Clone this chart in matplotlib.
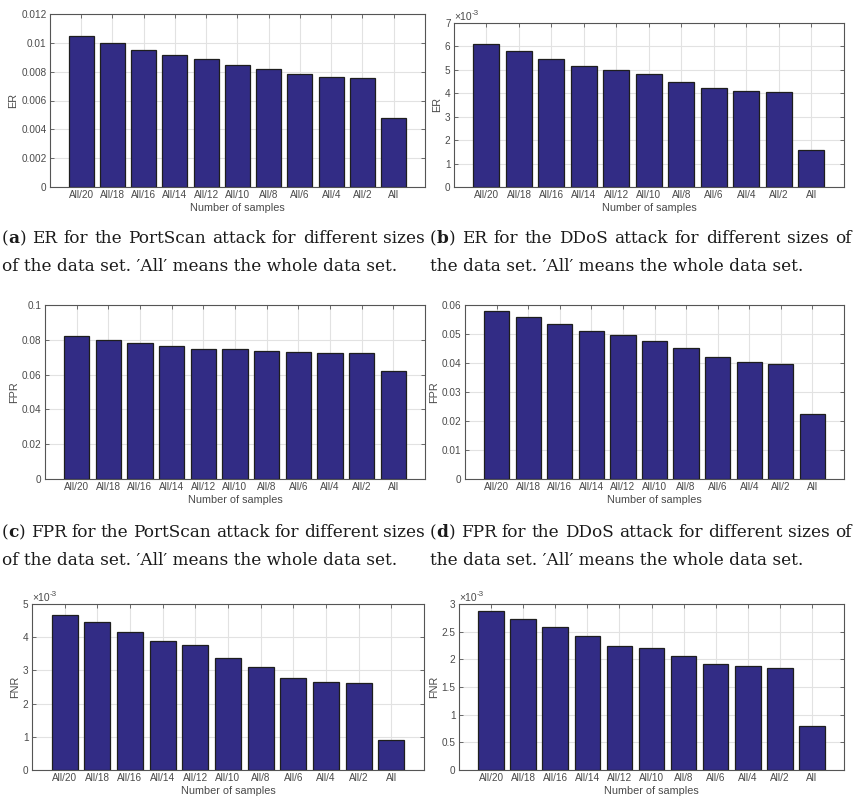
import matplotlib
matplotlib.use("Agg")
import matplotlib.pyplot as plt
from matplotlib.ticker import FuncFormatter, MultipleLocator

categories = ["All/20", "All/18", "All/16", "All/14", "All/12", "All/10",
              "All/8", "All/6", "All/4", "All/2", "All"]

er_portscan = [0.01048, 0.01002, 0.00951, 0.00918, 0.00891, 0.00847,
               0.00817, 0.00787, 0.00764, 0.00759, 0.00482]
er_ddos = [6.10e-3, 5.80e-3, 5.48e-3, 5.18e-3, 4.99e-3, 4.82e-3,
           4.50e-3, 4.24e-3, 4.10e-3, 4.04e-3, 1.60e-3]
fpr_portscan = [0.0820, 0.0799, 0.0780, 0.0763, 0.0747, 0.0745,
                0.0734, 0.0731, 0.0726, 0.0723, 0.0620]
fpr_ddos = [0.0578, 0.0557, 0.0534, 0.0510, 0.0497, 0.0475,
            0.0451, 0.0422, 0.0404, 0.0396, 0.0224]
fnr_portscan = [4.67e-3, 4.47e-3, 4.17e-3, 3.89e-3, 3.77e-3, 3.36e-3,
                3.09e-3, 2.77e-3, 2.65e-3, 2.62e-3, 0.90e-3]
fnr_ddos = [2.87e-3, 2.73e-3, 2.58e-3, 2.43e-3, 2.25e-3, 2.21e-3,
            2.06e-3, 1.92e-3, 1.88e-3, 1.84e-3, 0.80e-3]

captions = [
    ("a", "ER for the PortScan attack for different sizes",
     "of the data set. \u2032All\u2032 means the whole data set."),
    ("b", "ER for the DDoS attack for different sizes of",
     "the data set. \u2032All\u2032 means the whole data set."),
    ("c", "FPR for the PortScan attack for different sizes",
     "of the data set. \u2032All\u2032 means the whole data set."),
    ("d", "FPR for the DDoS attack for different sizes of",
     "the data set. \u2032All\u2032 means the whole data set."),
]

W, H = 854, 798
fig = plt.figure(figsize=(W / 100, H / 100), dpi=100)

SANS = ["Liberation Sans", "DejaVu Sans"]
SERIF = ["DejaVu Serif"]
BAR = "#322c85"
EDGE = "#1e1e1e"
TXT = "#4a4a4a"
SPINE = "#555555"
GRID = "#e2e2e2"
CAPC = "#1a1a1a"

panels = [
    # data, ylabel, ymax, step, exponent, (L, R, T, B)
    (er_portscan, "ER", 0.012, 0.002, None, (50, 425, 14, 187)),
    (er_ddos, "ER", 7e-3, 1e-3, -3, (454, 844, 23, 187)),
    (fpr_portscan, "FPR", 0.1, 0.02, None, (45, 425, 305, 479)),
    (fpr_ddos, "FPR", 0.06, 0.01, None, (465, 844, 305, 479)),
    (fnr_portscan, "FNR", 5e-3, 1e-3, -3, (32, 424, 604, 770)),
    (fnr_ddos, "FNR", 3e-3, 0.5e-3, -3, (459, 844, 604, 770)),
]

for data, ylab, ymax, step, expo, (L, R, T, B) in panels:
    ax = fig.add_axes([L / W, 1 - B / H, (R - L) / W, (B - T) / H])
    x = list(range(1, len(categories) + 1))
    ax.bar(x, data, width=0.8, color=BAR, edgecolor=EDGE, linewidth=0.9, zorder=3)
    ax.set_xlim(0, 12)
    ax.set_ylim(0, ymax)
    ax.set_xticks(x)
    ax.set_xticklabels(categories, family=SANS, fontsize=7.2, color=TXT)
    ax.yaxis.set_major_locator(MultipleLocator(step))
    if expo is None:
        ax.yaxis.set_major_formatter(FuncFormatter(lambda v, p: f"{round(v, 6):g}"))
    else:
        sc = 10.0 ** expo
        ax.yaxis.set_major_formatter(FuncFormatter(lambda v, p, sc=sc: f"{round(v / sc, 6):g}"))
        t1 = ax.text(0.0, 1.008, "\u00d710", transform=ax.transAxes,
                     family=SANS, fontsize=7.5, color=TXT, ha="left", va="bottom")
        ax.annotate(f"-{abs(expo)}", xy=(1, 0.5), xycoords=t1, family=SANS,
                    fontsize=5.8, color=TXT, ha="left", va="bottom")
    for lab in ax.get_yticklabels():
        lab.set_family(SANS)
        lab.set_fontsize(7.2)
        lab.set_color(TXT)
    ax.tick_params(axis="both", which="both", direction="in", length=3,
                   width=0.6, color=SPINE, top=True, right=True, pad=2.5)
    ax.grid(True, color=GRID, linewidth=0.8, zorder=0)
    ax.set_axisbelow(True)
    for s in ax.spines.values():
        s.set_color(SPINE)
        s.set_linewidth(0.8)
    ax.set_xlabel("Number of samples", family=SANS, fontsize=7.8, color=TXT, labelpad=2)
    ax.set_ylabel(ylab, family=SANS, fontsize=7.8, color=TXT, labelpad=2)

# captions (first line justified to the column width, as in the LaTeX source)
renderer = fig.canvas.get_renderer()
CAP_FS = 12.2
cap_pos = [(2, 425, 243, 271), (430, 852, 243, 271),
           (2, 425, 537, 565), (430, 852, 537, 565)]


def measure(s, weight="normal"):
    t = fig.text(0, 0, s, family=SERIF, fontsize=CAP_FS, weight=weight)
    w = t.get_window_extent(renderer).width
    t.remove()
    return w


for (letter, l1, l2), (x0, x1, y1, y2) in zip(captions, cap_pos):
    words = [[("(", "normal"), (letter, "bold"), (")", "normal")]]
    words += [[(w, "normal")] for w in l1.split()]
    widths = [[measure(s, wt) for s, wt in word] for word in words]
    total = sum(sum(ws) for ws in widths)
    gap = (x1 - x0 - total) / (len(words) - 1)
    xp = x0
    for word, ws in zip(words, widths):
        for (s, wt), w in zip(word, ws):
            fig.text(xp / W, 1 - y1 / H, s, family=SERIF, fontsize=CAP_FS,
                     weight=wt, color=CAPC, ha="left", va="baseline")
            xp += w
        xp += gap
    fig.text(x0 / W, 1 - y2 / H, l2, family=SERIF, fontsize=CAP_FS,
             color=CAPC, ha="left", va="baseline")

fig.savefig("out.png", dpi=100)
